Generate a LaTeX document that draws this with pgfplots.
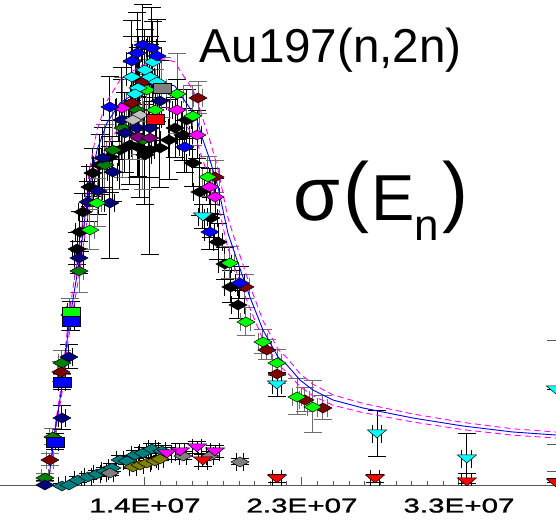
\documentclass[border=0pt]{standalone}
\usepackage{fontspec}
\setmainfont{Liberation Sans}
\newfontfamily\tickfont{Liberation Sans}[FakeBold=1.2]
\usepackage{graphicx}
\usepackage{pgfplots}
\pgfplotsset{compat=1.18}

\definecolor{cnavy}{RGB}{0,0,128}
\definecolor{cblue}{RGB}{0,0,255}
\definecolor{cgreen}{RGB}{0,255,0}
\definecolor{cdgreen}{RGB}{0,128,0}
\definecolor{ccyan}{RGB}{0,255,255}
\definecolor{cmaroon}{RGB}{128,0,0}
\definecolor{cmag}{RGB}{255,0,255}
\definecolor{cred}{RGB}{255,0,0}
\definecolor{cgray}{RGB}{128,128,128}
\definecolor{clgray}{RGB}{192,192,192}
\definecolor{cteal}{RGB}{0,128,128}
\definecolor{colive}{RGB}{128,128,0}
\definecolor{cpurple}{RGB}{128,0,128}
\definecolor{bargray}{RGB}{110,110,110}

\pgfdeclareplotmark{fdiam}{%
 \pgfpathmoveto{\pgfqpoint{-1.8\pgfplotmarksize}{0pt}}%
 \pgfpathlineto{\pgfqpoint{0pt}{\pgfplotmarksize}}%
 \pgfpathlineto{\pgfqpoint{1.8\pgfplotmarksize}{0pt}}%
 \pgfpathlineto{\pgfqpoint{0pt}{-\pgfplotmarksize}}%
 \pgfpathclose\pgfusepathqfillstroke}
\pgfdeclareplotmark{tdown}{%
 \pgfpathmoveto{\pgfqpoint{-1.9\pgfplotmarksize}{0.8\pgfplotmarksize}}%
 \pgfpathlineto{\pgfqpoint{1.9\pgfplotmarksize}{0.8\pgfplotmarksize}}%
 \pgfpathlineto{\pgfqpoint{0pt}{-0.8\pgfplotmarksize}}%
 \pgfpathclose\pgfusepathqfillstroke}
\pgfdeclareplotmark{frect}{%
 \pgfpathrectanglecorners{\pgfqpoint{-1.8\pgfplotmarksize}{-\pgfplotmarksize}}{\pgfqpoint{1.8\pgfplotmarksize}{\pgfplotmarksize}}%
 \pgfusepathqfillstroke}

\pgfplotsset{
 dat/.style n args={3}{only marks, mark=#3, mark size=5pt,
   mark options={draw=black, line width=0.5pt, fill=#1, solid},
   error bars/x dir=both, error bars/x explicit,
   error bars/y dir=both, error bars/y explicit,
   error bars/error bar style={#2, line width=1pt},
   error bars/error mark options={rotate=90, #2, mark size=9pt, line width=1pt}},
}
\newcommand{\tl}[1]{\scalebox{1.48}[1]{#1}}

\begin{document}
\begin{tikzpicture}
\begin{axis}[
 width=556pt, height=486pt, scale only axis,
 xmin=4.73, xmax=38.37, ymin=0, ymax=2430,
 axis x line=bottom, axis y line=right,
 axis line style={-, draw=gray!70!black, line width=1pt},
 y axis line style={draw=none},
 tick align=inside,
 xtick={13.5,23,32.5},
 xticklabels={\tl{1.4E+07},\tl{2.3E+07},\tl{3.3E+07}},
 minor x tick num=9,
 ytick={70,205,725},
 yticklabels={},
 major tick length=9pt, minor tick length=5pt,
 tick style={gray!70!black, line width=1pt},
 xticklabel style={font=\tickfont\fontsize{20}{20}\selectfont, yshift=-9pt},
 clip=true,
]
% black
\addplot[dat={black}{black}{fdiam}] coordinates {
(9.75,1370) +- (0.3,90) (9.57,1270) +- (0.3,100) (9.39,1185) +- (0.3,80)
(10.35,1565) +- (0.4,120) (10.17,1495) +- (0.3,100)
(15.32,1790) +- (0.4,150) (15.80,1755) +- (0.4,130) (16.04,1830) +- (0.3,150)
(16.40,1615) +- (0.4,120) (16.83,1470) +- (0.4,120) (17.49,1340) +- (0.4,100)
(17.92,1220) +- (0.3,90) (18.34,1110) +- (0.4,80) (18.70,995) +- (0.4,80)
(19.13,905) +- (0.4,70)
(12.59,1705) +- (0.5,200) (13.20,1690) +- (0.5,250) (13.80,1680) +- (0.3,525)
(14.41,1690) +- (0.5,200) (13.50,1655) +- (0.4,250) (11.99,1680) +- (0.5,200)
(11.38,1645) +- (0.5,180) (14.96,1730) +- (0.5,200) (10.78,1605) +- (0.4,150)
};
% dark green
\addplot[dat={cdgreen}{bargray}{fdiam}] coordinates {
(9.51,1075) +- (0.3,110) (8.96,855) +- (0.2,80) (8.48,615) +- (0.2,60)
(7.93,245) +- (0.2,40) (7.45,40) +- (0.2,20) (11.56,1680) +- (0.4,200)
(11.08,1605) +- (0.4,200) (12.17,1790) +- (0.4,250) (13.02,1880) +- (0.4,250)
(13.38,1730) +- (0.4,250)
};
% navy
\addplot[dat={cnavy}{black}{fdiam}] coordinates {
(8.48,340) +- (0.2,60) (8.90,645) +- (0.2,60) (7.45,5) +- (0.2,20)
(9.51,1140) +- (0.3,80) (10.05,1420) +- (0.3,100) (11.38,1415) +- (0.3,280)
(10.66,1475) +- (0.3,120) (10.96,1640) +- (0.3,150) (11.56,1570) +- (0.3,150)
(12.11,1830) +- (0.4,200) (12.29,1765) +- (0.4,200) (13.02,1790) +- (0.4,250)
(13.80,1790) +- (0.4,250) (14.41,1925) +- (0.4,200)
};
% purple
\addplot[dat={cpurple}{black}{fdiam}] coordinates {
(13.08,1745) +- (0.4,200) (13.80,1740) +- (0.4,200)
};
% light gray
\addplot[dat={clgray}{bargray}{fdiam}] coordinates {
(13.20,1855) +- (0.4,200) (12.77,1830) +- (0.4,200)
};
% maroon
\addplot[dat={cmaroon}{bargray}{fdiam}] coordinates {
(13.38,2020) +- (0.3,200) (12.71,1915) +- (0.3,200) (16.71,1940) +- (0.3,80)
(17.74,1545) +- (0.3,80) (19.55,995) +- (0.3,60) (20.88,680) +- (0.3,50)
(21.49,560) +- (0.3,50) (23.18,430) +- (0.3,60) (24.27,390) +- (0.3,60)
(8.42,570) +- (0.2,50) (7.75,130) +- (0.2,30)
};
% green diamonds
\addplot[dat={cgreen}{bargray}{fdiam}] coordinates {
(15.44,1960) +- (0.4,200) (16.40,1850) +- (0.4,150) (14.11,1880) +- (0.4,200)
(13.62,1980) +- (0.4,200) (17.31,1545) +- (0.3,100) (18.64,1115) +- (0.3,80)
(19.61,820) +- (0.3,70) (20.64,720) +- (0.3,60) (21.49,615) +- (0.3,65)
(22.70,445) +- (0.3,90) (23.66,395) +- (0.3,130) (10.60,1415) +- (0.3,120)
(10.17,1280) +- (0.3,100)
};
% green square
\addplot[dat={cgreen}{black}{frect}] coordinates {(9.02,870) +- (0.2,50)};
% blue squares
\addplot[dat={cblue}{black}{frect}] coordinates {
(8.48,520) +- (0.2,40) (9.02,825) +- (0.2,50) (8.06,220) +- (0.2,40)
};
% magenta diamonds
\addplot[dat={cmag}{black}{fdiam}] coordinates {
(12.11,1890) +- (0.4,200) (15.44,1880) +- (0.3,150) (16.65,1755) +- (0.3,120)
(17.43,1495) +- (0.3,90) (17.74,1445) +- (0.3,90)
};
% cyan diamonds
\addplot[dat={ccyan}{black}{fdiam}] coordinates {
(13.98,2120) +- (0.3,200) (12.71,2045) +- (0.3,200) (13.80,2045) +- (0.3,200)
(14.23,2020) +- (0.3,200) (13.08,1990) +- (0.3,200) (12.90,1960) +- (0.3,200)
(13.50,2080) +- (0.3,200)
};
% blue diamonds
\addplot[dat={cblue}{black}{fdiam}] coordinates {
(13.38,2205) +- (0.3,200) (13.92,2190) +- (0.3,200) (13.02,2165) +- (0.3,200)
(14.23,2150) +- (0.3,180) (12.71,2125) +- (0.3,200) (11.38,1895) +- (0.4,150)
(15.92,1695) +- (0.3,130) (17.43,1270) +- (0.3,90) (19.25,1015) +- (0.3,80)
};
% gray markers near peak
\addplot[dat={cgray}{bargray}{frect}] coordinates {(14.53,1990) +- (0.3,150)};
% red rectangle
\addplot[dat={cred}{black}{frect}] coordinates {(14.11,1835) +- (0.4,150)};
% cyan triangles
\addplot[dat={ccyan}{black}{tdown}] coordinates {
(17.01,1345) +- (0.3,60) (21.49,505) +- (0.3,60) (27.54,260) +- (0.3,115)
(32.98,135) +- (0.3,125) (38.37,480) +- (0,0)
};
% teal
\addplot[dat={cteal}{black}{fdiam}] coordinates {
(8.48,0) +- (0.2,10) (8.90,5) +- (0.2,10) (9.45,30) +- (0.2,15) (10.05,45) +- (0.2,15)
(10.60,60) +- (0.2,15) (11.08,75) +- (0.2,15) (11.50,90) +- (0.2,20) (11.99,130) +- (0.2,20)
(12.41,125) +- (0.2,20) (12.90,155) +- (0.2,20) (13.38,165) +- (0.2,25) (13.92,185) +- (0.2,25)
(14.53,175) +- (0.2,25)
};
% olive
\addplot[dat={colive}{black}{fdiam}] coordinates {
(12.77,95) +- (0.2,10) (13.20,105) +- (0.2,10) (13.62,115) +- (0.2,10)
(14.11,125) +- (0.2,10) (14.41,135) +- (0.2,10)
};
% gray diamonds (low)
\addplot[dat={cgray}{black}{fdiam}] coordinates {
(11.38,65) +- (0.2,15) (15.80,150) +- (0.2,20) (17.43,150) +- (0.2,20) (19.25,120) +- (0.2,15)
};
% magenta triangles
\addplot[dat={cmag}{black}{tdown}] coordinates {
(15.62,170) +- (0.3,40) (16.65,190) +- (0.3,30) (17.74,170) +- (0.3,30) (14.83,160) +- (0.3,30)
};
% red triangles
\addplot[dat={cred}{black}{tdown}] coordinates {
(17.01,125) +- (0.3,30) (21.49,35) +- (0.3,20) (27.42,35) +- (0.3,20)
(32.98,20) +- (0.3,40) (38.37,15) +- (0,20)
};
% evaluation curves
\addplot[cmag, line width=0.9pt, dash pattern=on 6pt off 4pt] coordinates {
(7.63,0) (8.06,297) (8.48,525) (8.84,811) (9.14,986) (9.57,1214) (9.87,1426) (10.17,1595)
(10.60,1781) (11.20,1924) (11.99,2030) (13.20,2099) (13.98,2125) (14.71,2136) (15.31,2120)
(15.74,2062) (16.22,2003) (16.65,1940) (17.01,1834) (17.43,1728) (17.92,1585) (18.52,1341)
(19.13,1182) (19.85,1002) (20.64,827) (21.55,684) (22.09,641) (22.88,562) (23.66,509)
(24.87,456) (26.69,413) (29.71,360) (32.74,318) (35.76,286) (38.36,270)
};
\addplot[cmag, line width=0.9pt, dash pattern=on 6pt off 4pt] coordinates {
(7.63,0) (8.06,263) (8.48,465) (8.84,719) (9.14,874) (9.57,1076) (9.87,1264) (10.17,1415)
(10.60,1579) (11.20,1706) (11.99,1800) (13.20,1861) (13.98,1885) (14.71,1894) (15.31,1880)
(15.74,1828) (16.22,1777) (16.65,1720) (17.01,1626) (17.43,1532) (17.92,1405) (18.52,1189)
(19.13,1048) (19.85,888) (20.64,733) (21.55,606) (22.09,569) (22.88,498) (23.66,451)
(24.87,404) (26.69,367) (29.71,320) (32.74,282) (35.76,254) (38.36,240)
};
\addplot[blue, line width=0.9pt] coordinates {
(7.63,0) (8.06,280) (8.48,495) (8.84,765) (9.14,930) (9.57,1145) (9.87,1345) (10.17,1505)
(10.60,1680) (11.20,1815) (11.99,1915) (13.20,1980) (13.98,2005) (14.71,2015) (15.31,2000)
(15.74,1945) (16.22,1890) (16.65,1830) (17.01,1730) (17.43,1630) (17.92,1495) (18.52,1265)
(19.13,1115) (19.85,945) (20.64,780) (21.55,645) (22.09,605) (22.88,530) (23.66,480)
(24.87,430) (26.69,390) (29.71,340) (32.74,300) (35.76,270) (38.36,255)
};
\node[anchor=base, inner sep=0pt, font=\fontsize{47.6}{50}\selectfont] at (rel axis cs:0.595,0.872) {Au197(n,2n)};
\node[anchor=base west, inner sep=0pt] at (rel axis cs:0.527,0.547) {\fontsize{76}{80}\selectfont σ\kern3pt\raisebox{3pt}{\fontsize{78}{80}\selectfont (}\kern2pt{\fontsize{65}{70}\selectfont E}\raisebox{-20pt}{\fontsize{44}{48}\selectfont n}\kern4pt\raisebox{3pt}{\fontsize{78}{80}\selectfont )}};
\node[anchor=north, font=\tickfont\fontsize{20}{20}\selectfont, yshift=-9pt] at (axis cs:4,0) {\tl{4.0E+06}};
\end{axis}
\pgfresetboundingbox
\path[use as bounding box] (current axis.south west) ++(0,-34pt) rectangle (current axis.north east);
\end{tikzpicture}
\end{document}
